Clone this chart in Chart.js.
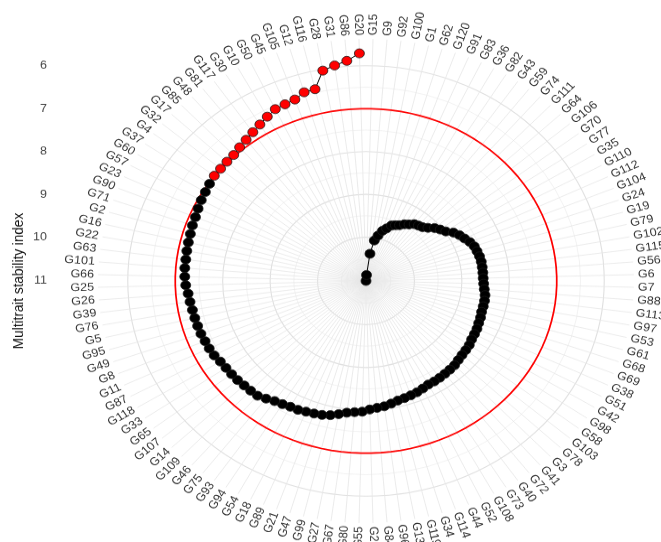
<!DOCTYPE html>
<html><head><meta charset="utf-8">
<script src="https://cdn.jsdelivr.net/npm/chart.js@4/dist/chart.umd.min.js"></script>
<style>
html,body{margin:0;padding:0;background:#fff;overflow:hidden;}
#wrap{width:661px;height:542px;overflow:hidden;position:relative;background:#fff;}
#inner{width:661px;height:600px;transform:scaleY(0.9033);transform-origin:0 0;}
</style></head><body>
<div id="wrap"><div id="inner"><canvas id="c" width="661" height="600"></canvas></div></div>
<script>
// Genotypes in ranking order (lowest MTSI first)
const genotypes = ["G20","G86","G31","G28","G116","G12","G105","G45","G50","G10","G30","G117","G81","G48","G85","G17","G32","G4","G37","G60","G57","G23","G90","G71","G2","G16","G22","G63","G101","G66","G25","G26","G39","G76","G5","G95","G49","G8","G11","G87","G118","G33","G65","G107","G14","G109","G46","G75","G93","G94","G54","G18","G89","G21","G47","G99","G27","G67","G80","G55","G29","G84","G96","G13","G119","G34","G114","G44","G52","G108","G73","G40","G72","G41","G3","G78","G103","G58","G98","G42","G51","G38","G69","G68","G61","G53","G97","G113","G88","G7","G6","G56","G115","G102","G79","G19","G24","G104","G112","G110","G35","G77","G70","G106","G64","G111","G74","G59","G43","G82","G36","G83","G91","G120","G62","G1","G100","G92","G9","G15"];
const mtsi = [5.71,5.87,5.95,6.03,6.42,6.43,6.53,6.56,6.58,6.66,
6.74,6.81,6.87,6.92,6.97,6.98,6.99,6.99,7.02,7.05,
7.07,7.10,7.13,7.14,7.16,7.17,7.18,7.19,7.19,7.20,
7.22,7.26,7.28,7.30,7.31,7.32,7.33,7.35,7.36,7.38,
7.42,7.44,7.45,7.46,7.48,7.49,7.50,7.56,7.62,7.65,
7.68,7.69,7.72,7.74,7.76,7.80,7.86,7.92,7.95,7.97,
8.02,8.05,8.07,8.11,8.15,8.17,8.19,8.21,8.24,8.27,
8.27,8.28,8.29,8.30,8.31,8.34,8.36,8.37,8.38,8.41,
8.42,8.43,8.45,8.46,8.48,8.48,8.48,8.49,8.52,8.54,
8.55,8.55,8.55,8.55,8.56,8.58,8.60,8.65,8.72,8.78,
8.86,8.98,9.05,9.12,9.22,9.29,9.32,9.35,9.42,9.47,
9.54,9.58,9.62,9.72,9.80,9.93,10.06,10.38,10.88,11.02];
const nSelected = 18;
const cutoff = 7.0;
const radialTickLabels = [6,7,8,9,10,11];
const gridBreaks = [6,6.5,7,7.5,8,8.5,9,9.5,10,10.5,11];
const axisTitle = "Multitrait stability index";

// Chart order: clockwise from the top (reverse ranking)
const labels = genotypes.slice().reverse();
const values = mtsi.slice().reverse();
const n = labels.length;
const selectedSet = new Set(genotypes.slice(0, nSelected));
const pointFill = labels.map(g => selectedSet.has(g) ? '#ff0000' : '#000000');
const vMin = Math.min(...mtsi), vMax = Math.max(...mtsi);

const FONT = '"Liberation Sans", Arial, Helvetica, sans-serif';
const LABEL_R = 272;
const SPOKE_R = 268;

const decor = {
  id: 'decor',
  beforeDatasetsDraw(chart) {
    const s = chart.scales.r, ctx = chart.ctx;
    ctx.save();
    ctx.strokeStyle = '#e6e6e6';
    ctx.lineWidth = 0.8;
    for (let i = 0; i < n; i++) {
      const p = s.getPointPosition(i, SPOKE_R);
      ctx.beginPath();
      ctx.moveTo(s.xCenter, s.yCenter);
      ctx.lineTo(p.x, p.y);
      ctx.stroke();
    }
    ctx.restore();
  },
  beforeDatasetDraw(chart, args) {
    // open path (no closing segment) joining genotypes in ranking order
    if (args.index !== 0) return;
    const pts = chart.getDatasetMeta(0).data;
    const ctx = chart.ctx;
    ctx.save();
    ctx.strokeStyle = '#000';
    ctx.lineWidth = 1;
    ctx.beginPath();
    for (let i = 0; i < pts.length; i++) {
      if (i === 0) ctx.moveTo(pts[i].x, pts[i].y); else ctx.lineTo(pts[i].x, pts[i].y);
    }
    ctx.stroke();
    ctx.restore();
  },
  afterDraw(chart) {
    const s = chart.scales.r, ctx = chart.ctx;
    ctx.save();
    ctx.font = '12.5px ' + FONT;
    ctx.fillStyle = '#333';
    ctx.textBaseline = 'middle';
    for (let i = 0; i < n; i++) {
      const p = s.getPointPosition(i, LABEL_R);
      let alpha = p.angle + Math.PI / 2;
      alpha = ((alpha % (2 * Math.PI)) + 2 * Math.PI) % (2 * Math.PI);
      ctx.save();
      ctx.translate(p.x, p.y);
      if (alpha < Math.PI) {
        ctx.rotate(alpha - Math.PI / 2);
        ctx.textAlign = 'left';
      } else {
        ctx.rotate(alpha - 3 * Math.PI / 2);
        ctx.textAlign = 'right';
      }
      ctx.fillText(labels[i], 0, 0);
      ctx.restore();
    }
    ctx.font = '12.5px ' + FONT;
    ctx.fillStyle = '#444';
    ctx.textAlign = 'right';
    ctx.textBaseline = 'middle';
    radialTickLabels.forEach(v => {
      const y = s.yCenter - s.getDistanceFromCenterForValue(v);
      ctx.fillText(String(v), 47, y);
    });
    ctx.font = '15px ' + FONT;
    ctx.fillStyle = '#111';
    ctx.textAlign = 'center';
    ctx.textBaseline = 'middle';
    ctx.translate(19, s.yCenter);
    ctx.rotate(-Math.PI / 2);
    ctx.fillText(axisTitle, 0, 0);
    ctx.restore();
  }
};

new Chart(document.getElementById('c'), {
  type: 'radar',
  data: {
    labels: labels,
    datasets: [
      {
        label: 'MTSI',
        data: values,
        borderColor: 'rgba(0,0,0,0)',
        borderWidth: 0,
        backgroundColor: 'rgba(0,0,0,0)',
        fill: false,
        tension: 0,
        pointRadius: 5,
        pointBackgroundColor: pointFill,
        pointBorderColor: '#1a1a1a',
        pointBorderWidth: 0.8
      },
      {
        label: 'cutoff',
        data: labels.map(() => cutoff),
        borderColor: '#ff0000',
        borderWidth: 1.7,
        backgroundColor: 'rgba(0,0,0,0)',
        fill: false,
        tension: 0,
        pointRadius: 0
      }
    ]
  },
  options: {
    responsive: false,
    animation: false,
    devicePixelRatio: 1,
    layout: { padding: { left: 114, right: 43, top: 59, bottom: 37 } },
    plugins: { legend: { display: false }, tooltip: { enabled: false } },
    scales: {
      r: {
        min: vMin,
        max: vMax,
        reverse: true,
        startAngle: 1.5,
        beginAtZero: false,
        afterBuildTicks: (scale) => {
          scale.ticks = [{ value: vMax }].concat(gridBreaks.map(v => ({ value: v })));
        },
        ticks: { display: false },
        pointLabels: { display: false },
        angleLines: { display: false },
        grid: {
          circular: true,
          color: c => (c.tick && Number.isInteger(c.tick.value)) ? '#e0e0e0' : '#ececec',
          lineWidth: c => (c.tick && Number.isInteger(c.tick.value)) ? 1.1 : 0.7
        }
      }
    }
  },
  plugins: [decor]
});
</script>
</body></html>
